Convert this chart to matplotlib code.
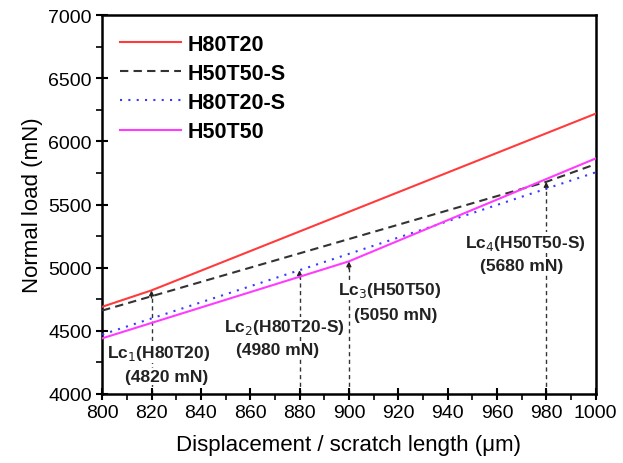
import matplotlib
matplotlib.use("Agg")
import matplotlib.pyplot as plt
from matplotlib.ticker import MultipleLocator

plt.rcParams["font.family"] = ["Liberation Sans", "DejaVu Sans"]

# series: (x in um, normal load in mN)
h80t20_x = [800, 820, 1000]
h80t20_y = [4690, 4820, 6220]
h50t50s_x = [800, 980, 1000]
h50t50s_y = [4660, 5680, 5820]
h80t20s_x = [800, 880, 1000]
h80t20s_y = [4470, 4980, 5755]
h50t50_x = [800, 900, 1000]
h50t50_y = [4440, 5050, 5865]

# critical loads
lc_x = [820, 880, 900, 980]
lc_y = [4820, 4980, 5050, 5680]
lc_names = ["Lc$_1$(H80T20)", "Lc$_2$(H80T20-S)", "Lc$_3$(H50T50)", "Lc$_4$(H50T50-S)"]
lc_vals = ["(4820 mN)", "(4980 mN)", "(5050 mN)", "(5680 mN)"]
lc_name_pos = [(823, 4325), (874, 4532), (916.5, 4825), (971.5, 5200)]
lc_val_pos = [(826, 4137), (871, 4349), (919, 4627), (970, 5016)]

fig, ax = plt.subplots(figsize=(6.23, 4.64), dpi=100)
fig.subplots_adjust(left=0.164, right=0.956, top=0.965, bottom=0.149)

ax.plot(h80t20_x, h80t20_y, color="#ff3b3b", lw=1.5, label="H80T20", zorder=3)
ax.plot(h50t50s_x, h50t50s_y, color="#333333", lw=1.5, ls=(0, (4, 2.5)), label="H50T50-S", zorder=3)
ax.plot(h80t20s_x, h80t20s_y, color="#3a3aff", lw=1.5, ls=(0, (1, 3)), label="H80T20-S", zorder=3)
ax.plot(h50t50_x, h50t50_y, color="#ff3bff", lw=1.5, label="H50T50", zorder=3)

for x, y in zip(lc_x, lc_y):
    ax.plot([x, x], [4000, y - 40], color="#333333", lw=1, ls=(0, (3, 2.5)), zorder=1)
    ax.annotate("", xy=(x, y), xytext=(x, y - 60),
                arrowprops=dict(arrowstyle="-|>", color="#222222", lw=1, mutation_scale=7,
                                shrinkA=0, shrinkB=0), zorder=2)

for name, val, (nx, ny), (vx, vy) in zip(lc_names, lc_vals, lc_name_pos, lc_val_pos):
    for s, tx, ty in [(name, nx, ny), (val, vx, vy)]:
        ax.text(tx, ty, s, ha="center", va="center", fontsize=12.5, fontweight="bold",
                color="#222222", zorder=4,
                bbox=dict(facecolor="white", edgecolor="none", pad=0.5))

ax.set_xlim(800, 1000)
ax.set_ylim(4000, 7000)
ax.xaxis.set_major_locator(MultipleLocator(20))
ax.xaxis.set_minor_locator(MultipleLocator(10))
ax.yaxis.set_major_locator(MultipleLocator(500))
ax.yaxis.set_minor_locator(MultipleLocator(250))
ax.tick_params(which="major", direction="inout", length=9, width=1.5, labelsize=14, pad=3)
ax.tick_params(which="minor", direction="out", length=4, width=1.2)
for sp in ax.spines.values():
    sp.set_linewidth(1.8)

ax.set_xlabel("Displacement / scratch length (\u03bcm)", fontsize=16, labelpad=9)
ax.set_ylabel("Normal load (mN)", fontsize=16, labelpad=4)

leg = ax.legend(loc="upper left", frameon=False, handlelength=2.8, handletextpad=0.3,
                labelspacing=0.38, borderaxespad=0.45, prop={"size": 15.5, "weight": "bold"})

fig.savefig("out.png", dpi=100)
